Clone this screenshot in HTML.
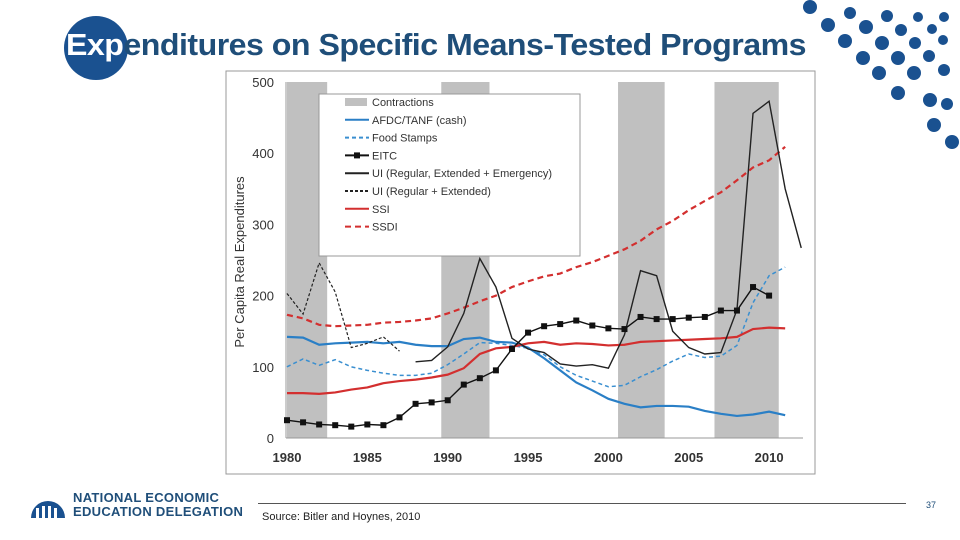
<!DOCTYPE html>
<html><head><meta charset="utf-8"><style>
body{margin:0;width:960px;height:540px;background:#fff;overflow:hidden;position:relative;font-family:"Liberation Sans",sans-serif}
#title{position:absolute;left:66px;top:27px;font-size:31px;font-weight:bold;color:#1f4e79;white-space:nowrap;letter-spacing:-0.5px;transform-origin:0 0;font-family:"Liberation Sans Narrow","Liberation Sans",sans-serif}
#circle{position:absolute;left:64px;top:16px;width:64px;height:64px;border-radius:50%;background:#1a5190}
</style></head><body>
<div id="circle"></div>
<div id="title"><span style="color:#fff">Exp</span>enditures on Specific Means-Tested Programs</div>
<svg id="dots" width="960" height="540" style="position:absolute;left:0;top:0">
</svg>
<svg id="chart" width="960" height="540" style="position:absolute;left:0;top:0"></svg>
<div style="position:absolute;left:258px;top:503px;width:648px;height:1px;background:#555"></div>
<div style="position:absolute;left:262px;top:511px;font-size:11px;color:#222">Source: Bitler and Hoynes, 2010</div>
<div style="position:absolute;left:926px;top:500px;font-size:9px;color:#1f4e79">37</div>
<div style="position:absolute;left:28px;top:486px">
<svg width="40" height="36"><path d="M3 32 A17 17 0 0 1 37 32" fill="#1a5190"/><rect x="8" y="22" width="3" height="12" fill="#fff"/><rect x="14" y="20" width="3" height="14" fill="#fff"/><rect x="20" y="20" width="3" height="14" fill="#fff"/><rect x="26" y="22" width="3" height="12" fill="#fff"/></svg>
</div>
<div style="position:absolute;left:73px;top:491px;font-size:13px;font-weight:bold;color:#1f4e79;line-height:14px;letter-spacing:0.3px">NATIONAL ECONOMIC<br>EDUCATION DELEGATION</div>
<script>
const years=[];for(let y=1980;y<=2011;y++)years.push(y);
const afdc=[142,141,131,133,134,135,133,135,131,129,129,139,141,135,134,127,112,95,78,67,55,48,43,45,45,44,38,34,31,33,37,32];
const food=[100,111,102,110,100,95,91,88,88,91,103,118,134,133,130,126,117,100,88,80,72,74,86,96,108,118,113,115,130,190,228,240];
const eitcYears=[];for(let y=1980;y<=2010;y++)eitcYears.push(y);
const eitc=[25,22,19,18,16,19,18,29,48,50,53,75,84,95,125,148,157,160,165,158,154,153,170,167,167,169,170,179,179,212,200];
const uiYears=[];for(let y=1988;y<=2012;y++)uiYears.push(y);
const uiFull=[107,109,128,175,252,212,140,125,120,104,101,103,98,145,235,228,150,127,118,120,180,456,473,350,267];
const uiDashYears=[1980,1981,1982,1983,1984,1985,1986,1987];
const uiDash=[203,174,246,205,127,133,142,122];
const ssi=[63,63,62,64,68,71,77,80,82,85,89,98,118,126,128,133,135,131,133,132,130,131,135,136,137,138,139,140,142,153,155,154];
const ssdi=[173,168,159,157,158,159,162,163,165,168,175,183,192,200,212,220,227,231,240,247,256,265,277,293,305,320,333,345,362,380,390,409];
const recStart=[1980,1989.6,2000.6,2006.6];
const recEnd=[1982.5,1992.6,2003.5,2010.6];
const yTicks=[0,100,200,300,400,500];
const xTicks=[1980,1985,1990,1995,2000,2005,2010];
const X=v=>287+(v-1980)*16.07, Y=v=>438-v*0.712;
const svg=document.getElementById('chart'),NS='http://www.w3.org/2000/svg';
function el(t,a){const e=document.createElementNS(NS,t);for(const k in a)e.setAttribute(k,a[k]);svg.appendChild(e);return e;}
let e=el('rect',{x:226,y:71,width:589,height:403,fill:'#fff',stroke:'#999'});

recStart.forEach((s,i)=>{const r=el('rect',{x:X(s),y:Y(500),width:X(recEnd[i])-X(s),height:Y(0)-Y(500),fill:'#c0c0c0'});
});
e=el('line',{x1:X(1980)-1,y1:Y(0),x2:803,y2:Y(0),stroke:'#999'});

e=el('line',{x1:X(1980)-1,y1:Y(0),x2:X(1980)-1,y2:Y(500),stroke:'#999'});

yTicks.forEach(v=>{const t=el('text',{x:274,y:Y(v)+5,'text-anchor':'end','font-size':13,fill:'#333'});t.textContent=v;
});
xTicks.forEach(v=>{const t=el('text',{x:X(v),y:462,'text-anchor':'middle','font-size':13,'font-weight':'bold',fill:'#333'});t.textContent=v;
});
e=el('text',{x:0,y:0,transform:'translate(244,262) rotate(-90)','text-anchor':'middle','font-size':13,fill:'#333'});e.textContent='Per Capita Real Expenditures';

function line(xs,vs,st,dash,w,name){const p=el('polyline',{points:xs.map((x,i)=>X(x)+','+Y(vs[i])).join(' '),fill:'none',stroke:st,'stroke-width':w,'stroke-dasharray':dash||'none'});
}
line(years,ssdi,'#d32f2f','6,4',2.2,'ssdi-line');
line(years,food,'#3a8fd0','4,3',1.5,'food-stamps-line');
line(years,afdc,'#2a7fc6','',2.2,'afdc-line');
line(years,ssi,'#d32f2f','',2.2,'ssi-line');
line(uiDashYears,uiDash,'#222','3,2',1.2,'ui-regular-extended-line');
line(uiYears,uiFull,'#222','',1.4,'ui-full-line');
line(eitcYears,eitc,'#111','',1.4,'eitc-line');
eitcYears.forEach((x,i)=>{const r=el('rect',{x:X(x)-3,y:Y(eitc[i])-3,width:6,height:6,fill:'#111'});
});
e=el('rect',{x:319,y:94,width:261,height:162,fill:'#fff',stroke:'#999'});

const leg=[['Contractions','band'],['AFDC/TANF (cash)','#2a7fc6',''],['Food Stamps','#3a8fd0','4,3'],['EITC','#111','',1],['UI (Regular, Extended + Emergency)','#222',''],['UI (Regular + Extended)','#222','3,2'],['SSI','#d32f2f',''],['SSDI','#d32f2f','6,4']];
leg.forEach((l,i)=>{const y=102+i*17.8;
if(l[1]==='band'){el('rect',{x:345,y:y-4,width:22,height:8,fill:'#c0c0c0'});}
else{el('line',{x1:345,y1:y,x2:369,y2:y,stroke:l[1],'stroke-width':2,'stroke-dasharray':l[2]||'none'});if(l[3])el('rect',{x:354,y:y-3,width:6,height:6,fill:'#111'});}
const t=el('text',{x:372,y:y+4,'font-size':11,fill:'#333'});t.textContent=l[0];
});
const ds=document.getElementById('dots');
const dots=[[810,7,7],[828,25,7],[850,13,6],[845,41,7],[866,27,7],[863,58,7],[887,16,6],[882,43,7],[879,73,7],[901,30,6],[898,58,7],[898,93,7],[918,17,5],[915,43,6],[914,73,7],[930,100,7],[944,17,5],[932,29,5],[929,56,6],[943,40,5],[944,70,6],[947,104,6],[934,125,7],[952,142,7]];
dots.forEach(d=>{const c=document.createElementNS(NS,'circle');c.setAttribute('cx',d[0]);c.setAttribute('cy',d[1]);c.setAttribute('r',d[2]);c.setAttribute('fill','#1a5190');ds.appendChild(c);});
const ti=document.getElementById('title');const w=ti.getBoundingClientRect().width;ti.style.transform='scaleX('+(740/w)+')';
</script>
</body></html>
